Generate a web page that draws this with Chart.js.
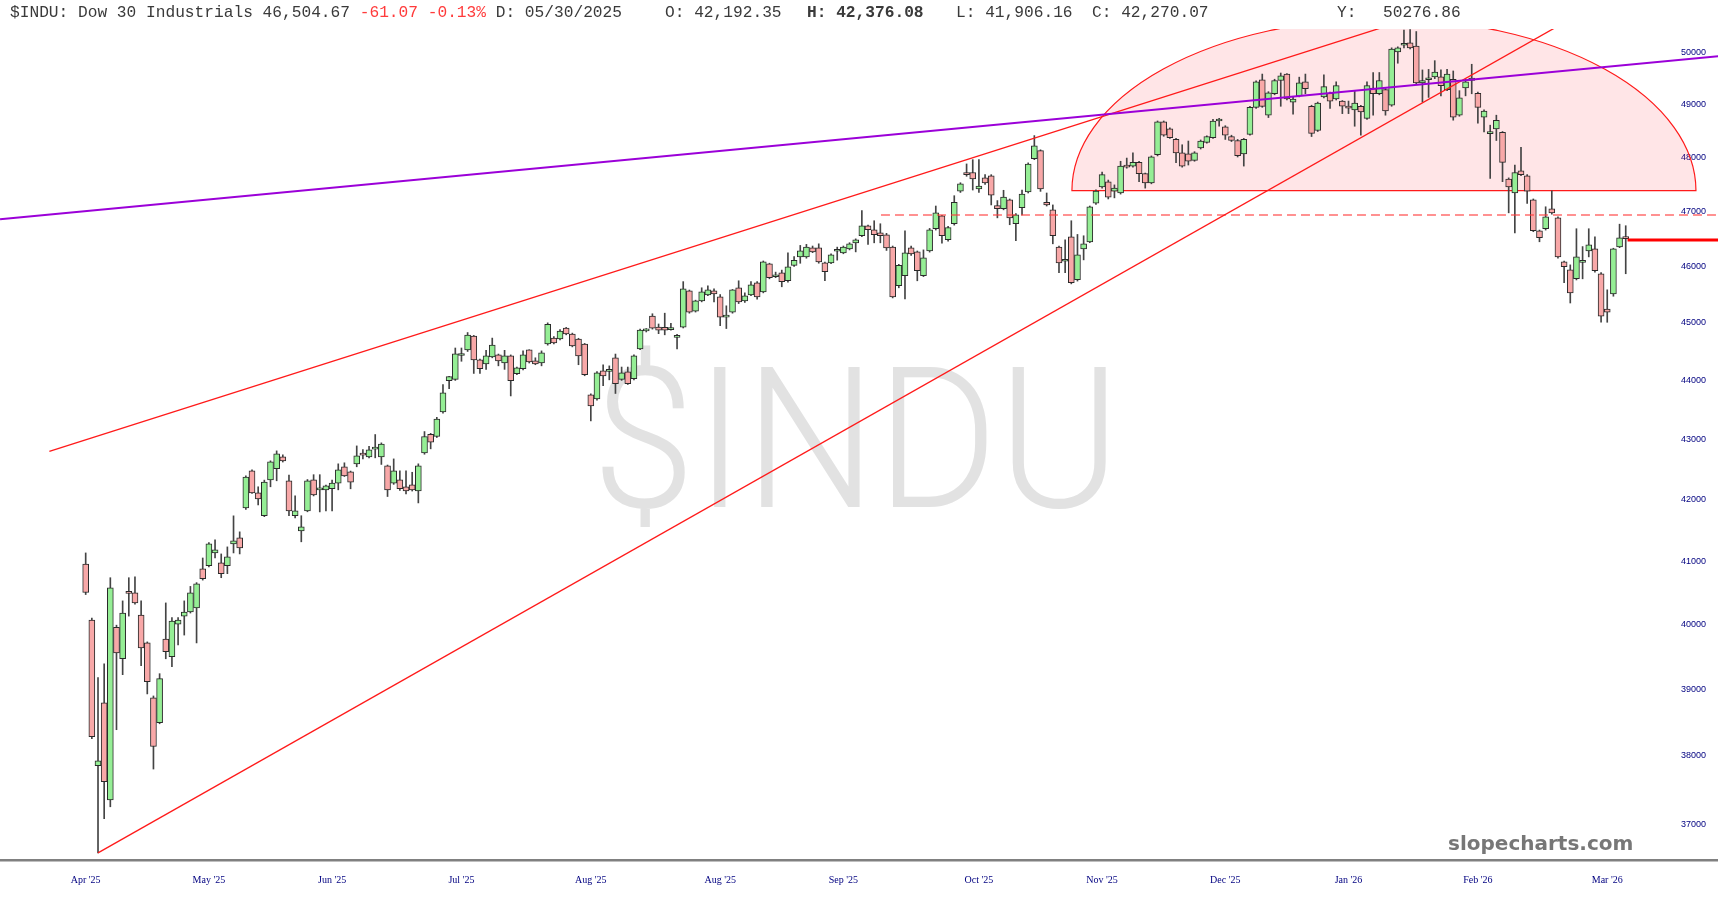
<!DOCTYPE html>
<html>
<head>
<meta charset="utf-8">
<title>$INDU</title>
<script src="https://cdn.jsdelivr.net/npm/chart.js@4.4.1/dist/chart.umd.min.js"></script>
<style>
  html, body { margin: 0; padding: 0; background: #fff; }
  #wrap { position: relative; width: 1718px; height: 900px; }
</style>
</head>
<body>
<div id="wrap"><canvas id="chart" width="1718" height="900"></canvas></div>
<script>
// ===============================
// == DATA (daily OHLC, one entry per session)
// ===============================
const opens = [
  40956,40069,37855,38796,37354,39958,39469,40510,40498,40148,
  39714,38872,38496,39775,39500,40005,40132,40196,40260,40881,
  40929,41134,40977,40929,41280,41377,41863,42475,42111,41736,
  42325,42508,42707,42309,41736,41491,41814,42325,42160,42160,
  42177,42271,42541,42458,42590,42740,42707,42835,42707,42558,
  42271,42325,42210,42243,42144,42773,43085,43047,43460,43996,
  44019,44430,44527,44770,44355,44286,44406,44441,44303,44424,
  44114,44200,44527,44337,44303,44630,44735,44717,44908,44804,
  44717,44630,43752,43683,44165,44155,44389,44019,44148,44030,
  44545,44860,45119,44925,44920,44880,44745,44925,45566,45207,
  45387,45495,45566,45460,45100,45190,45620,45387,45495,45710,
  45548,46049,45817,45889,45745,46022,46174,46174,46336,46336,
  46067,46067,46275,46246,46318,46428,46556,46739,46666,46611,
  46574,46353,45656,45835,46336,46264,45835,46282,46684,46920,
  46483,46775,47376,47720,47720,47414,47620,47658,47107,47050,
  47212,46775,47068,47358,47977,48130,47170,47032,46353,46095,
  46538,45763,46318,46446,47152,47451,47546,47376,47340,47857,
  47838,47911,47700,47527,48052,48672,48541,48340,48088,48070,
  47947,48180,48286,48375,48690,48580,48395,48320,48070,48436,
  48950,49480,48800,49210,49465,49590,49050,49170,49440,48968,
  48510,49150,49220,49110,49070,48975,48900,48968,48740,49320,
  49210,49290,48990,50020,50150,50200,50137,49420,49480,49535,
  49535,49290,49490,48800,49320,49465,49220,48760,48450,48541,
  48475,47600,47340,47750,47658,47212,46648,46684,47050,46883,
  46085,45943,45781,46075,46282,46318,45871,45244,45513,46353,
  46540
];
const highs = [
  41134,40100,39179,39393,40738,39990,40371,40738,40754,40371,
  39730,38900,39240,40339,40110,40110,40371,40600,40660,41053,
  41300,41345,41118,41231,41734,41474,42390,42490,42210,42320,
  42640,42806,42740,42403,42061,41736,42330,42410,42410,42240,
  42320,42590,42607,42470,42889,42827,42880,43080,42940,42570,
  42672,42475,42475,42450,42590,43130,43100,43370,43930,44070,
  44560,44560,44830,44780,44370,44520,44733,44455,44520,44440,
  44230,44510,44530,44390,44510,45000,44760,44880,44920,44820,
  44730,44640,43770,44150,44270,44250,44455,44230,44230,44440,
  44890,44900,45160,44980,45170,44990,44800,45730,45580,45400,
  45620,45656,45602,45500,45300,45590,45745,45530,45730,45730,
  46100,46060,45900,45936,46246,46180,46381,46400,46370,46410,
  46080,46230,46350,46370,46430,46500,47016,46750,46830,46775,
  46600,46370,46040,46647,46370,46280,46300,46690,47100,46930,
  46730,47290,47530,47880,47960,47960,47680,47680,47200,47390,
  47230,46960,47395,47900,48413,48145,47340,47120,46370,46483,
  46830,46580,46556,47100,47400,47730,47580,47490,47930,47990,
  48090,47930,47710,48030,48690,48690,48560,48360,48240,48310,
  48110,48330,48410,48720,48740,48600,48420,48340,48360,48970,
  49460,49590,49250,49490,49610,49600,49150,49530,49590,48990,
  49050,49575,49240,49440,49080,49070,49260,48990,49440,49620,
  49620,49310,50100,50120,50450,50460,50420,49670,49680,49850,
  49670,49680,49650,49270,49490,49780,49240,48900,48610,48800,
  48490,47620,47860,48190,47680,47230,46660,47086,47380,46900,
  46100,46030,46684,46360,46684,46536,45890,45584,46330,46767,
  46739
];
const lows = [
  40471,38256,36589,37080,37253,38391,39225,40132,40320,39362,
  38931,37806,38480,39469,39347,39683,39836,40180,39714,40700,
  40910,41053,40738,40802,41134,41118,41840,42100,41912,41720,
  42210,42309,42620,41736,41700,41313,41800,42060,41798,41814,
  41814,42160,42380,42177,42541,42670,42690,42690,42580,42050,
  42250,42150,42094,42140,41945,42750,42840,43030,43440,43860,
  44000,44330,44500,44120,44120,44190,44390,44251,44190,43734,
  44100,44180,44300,44270,44251,44610,44630,44700,44790,44580,
  44270,44080,43310,43660,43910,44010,43776,44000,43930,44010,
  44530,44840,44890,44810,44790,44870,44545,44910,45170,45190,
  45370,45480,45369,44950,44900,45170,45340,45360,45480,45420,
  45530,45780,45800,45638,45720,46000,46059,46150,46250,46060,
  45745,46050,46115,46230,46300,46264,46540,46398,46428,46428,
  46290,45440,45620,45424,46200,45745,45820,46260,46660,46420,
  46460,46750,47350,47650,47395,47350,47500,47120,46883,47030,
  46757,46465,46938,47340,47960,47370,47100,46410,45889,45889,
  45690,45740,46120,46430,47130,47430,47230,47250,47320,47800,
  47820,47550,47430,47510,48030,48400,48360,47905,47820,47860,
  47930,48160,48270,48360,48590,48340,48300,48010,47840,48420,
  48930,48950,48755,49190,48970,49090,48820,49150,49210,48395,
  48490,49130,48930,49090,48830,48830,48590,48420,48720,48800,
  49190,48800,48970,49800,50100,50080,49400,49050,49140,49500,
  49170,49270,48705,48780,49170,49210,48650,48480,47610,48320,
  47550,46975,46610,47660,47150,46630,46447,46660,46950,46150,
  45710,45350,45760,45780,46174,45900,45010,45010,45470,46340,
  45871
];
const closes = [
  40503,38286,37928,37620,40579,39561,40180,40490,40339,39638,
  39118,38140,39164,39577,40053,40069,40196,40498,40642,40722,
  41280,41183,40802,41070,41329,41215,42370,42111,42012,42288,
  42624,42756,42640,41814,41814,41556,42309,42078,42177,42227,
  42271,42491,42391,42288,42723,42735,42822,42845,42920,42160,
  42475,42177,42144,42160,42558,43047,42953,43341,43786,44064,
  44459,44445,44787,44355,44200,44424,44613,44337,44424,43996,
  44217,44441,44320,44286,44476,44976,44648,44856,44804,44596,
  44424,44097,43563,44131,44079,44165,43945,44131,43945,44424,
  44873,44880,44908,44873,44873,44895,44755,45602,45190,45387,
  45548,45584,45513,45100,45120,45584,45369,45477,45674,45459,
  46085,45799,45853,45728,45996,46112,46282,46353,46264,46085,
  45907,46210,46285,46353,46410,46483,46739,46666,46574,46556,
  46336,45459,46022,46246,46228,45925,46156,46666,46975,46556,
  46703,47170,47508,47680,47600,47470,47527,47302,47050,47265,
  46883,46938,47320,47876,48220,47414,47120,46556,46067,46110,
  45710,46210,46410,47086,47376,47680,47265,47433,47838,47820,
  47911,47700,47527,48015,48672,48420,48375,48088,47840,47930,
  48088,48310,48395,48690,48700,48420,48320,48033,48340,48950,
  49440,48968,49230,49465,49555,49110,49110,49420,49310,48455,
  49030,49346,49070,49365,48970,48935,49030,48860,49365,49210,
  49465,48880,50078,50098,50160,50098,49420,49465,49500,49630,
  49365,49590,48760,49130,49440,49510,48950,48880,48460,48700,
  47910,47451,47720,47680,47376,46648,46520,46902,46975,46174,
  45996,45530,46174,46085,46391,45925,45119,45190,46318,46520,
  46505
];

// month labels sit on the first session of each month (session index)
const monthTickPos = [0, 20, 40, 61, 82, 103, 123, 145, 165, 185, 205, 226, 247];
const monthTickLabels = ["Apr '25", "May '25", "Jun '25", "Jul '25", "Aug '25", "Aug '25",
                         "Sep '25", "Oct '25", "Nov '25", "Dec '25", "Jan '26", "Feb '26", "Mar '26"];
const priceTicks = [37000, 38000, 39000, 40000, 41000, 42000, 43000,
                    44000, 45000, 46000, 47000, 48000, 49000, 50000];

// drawn studies, in (session index, price)
const purpleLine = [{ x: -13.9, y: 46857 }, { x: 265, y: 49936 }];
const upperChannel = [{ x: -5.9, y: 42799 }, { x: 229.6, y: 51243 }];
const lowerChannel = [{ x: 2, y: 36589 }, { x: 245.8, y: 50997 }];
const dashedLevel = [{ x: 129.1, y: 46936 }, { x: 266, y: 46936 }];
const lastLevel = [{ x: 250.3, y: 46480 }, { x: 266, y: 46480 }];
const arcBox = { x0: 160.1, x1: 261.4, base: 47384, top: 50674 };

// ===============================
// == HEADER TEXT
// ===============================
const headerSegments = [
    { text: '$INDU: Dow 30 Industrials 46,504.67 ', at: 10 },
    { text: '-61.07 -0.13%', color: '#ff3b3b' },
    { text: ' D: 05/30/2025' },
    { text: 'O: 42,192.35', at: 665 },
    { text: 'H: 42,376.08', at: 807, bold: true },
    { text: 'L: 41,906.16', at: 956 },
    { text: 'C: 42,270.07', at: 1092 },
    { text: 'Y:', at: 1337 },
    { text: '50276.86', at: 1383 }
];

const X_MIN = -13.91, X_MAX = 264.98;
const Y_MIN = 36487, Y_MAX = 50470;

const isUp = closes.map((c, i) => c >= opens[i]);
const bodies = closes.map((c, i) => ({ x: i, y: [opens[i], c] }));
const wicks = lows.map((l, i) => ({ x: i, y: [l, highs[i]] }));

// ===============================
// == PLUGINS (background marks + text)
// ===============================
const backdrop = {
    id: 'backdrop',
    beforeDatasetsDraw(chart) {
        const { ctx, chartArea: a, scales: { x, y } } = chart;
        ctx.save();
        ctx.beginPath();
        ctx.rect(a.left, a.top, a.right - a.left, a.bottom - a.top);
        ctx.clip();

        // watermark
        ctx.font = '300 197px Roboto, "Liberation Sans", sans-serif';
        const w = ctx.measureText('$INDU').width;
        ctx.translate(856, 507);
        ctx.scale(528 / w, 1);
        ctx.fillStyle = '#e2e2e2';
        ctx.textAlign = 'center';
        ctx.textBaseline = 'alphabetic';
        ctx.fillText('$INDU', 0, 0);
        ctx.setTransform(1, 0, 0, 1, 0, 0);

        // half ellipse
        const left = x.getPixelForValue(arcBox.x0);
        const right = x.getPixelForValue(arcBox.x1);
        const base = y.getPixelForValue(arcBox.base);
        const top = y.getPixelForValue(arcBox.top);
        ctx.beginPath();
        ctx.ellipse((left + right) / 2, base, (right - left) / 2, base - top, 0, Math.PI, 2 * Math.PI);
        ctx.closePath();
        ctx.fillStyle = 'rgba(255, 40, 60, 0.12)';
        ctx.fill();
        ctx.strokeStyle = '#ff1a1a';
        ctx.lineWidth = 1.2;
        ctx.stroke();
        ctx.restore();
    },
    afterDraw(chart) {
        const { ctx } = chart;
        ctx.save();
        ctx.textBaseline = 'alphabetic';
        ctx.textAlign = 'left';
        let px = 10;
        for (const seg of headerSegments) {
            if (seg.at !== undefined) px = seg.at;
            ctx.font = (seg.bold ? 'bold ' : '') + '16.2px "Liberation Mono", "Courier New", monospace';
            ctx.fillStyle = seg.color || '#3a3a3a';
            ctx.fillText(seg.text, px, 17);
            px += ctx.measureText(seg.text).width;
        }
        ctx.font = 'bold 20px "DejaVu Sans", Verdana, sans-serif';
        ctx.fillStyle = '#777777';
        ctx.fillText('slopecharts.com', 1448, 850);
        ctx.restore();
    }
};

function lineSet(data, color, width, dash) {
    return {
        type: 'line', data, borderColor: color, borderWidth: width, borderDash: dash || [],
        pointRadius: 0, fill: false, tension: 0, order: 0
    };
}

new Chart(document.getElementById('chart'), {
    type: 'bar',
    data: {
        datasets: [
            {
                data: wicks, barThickness: 1, grouped: false, order: 3,
                backgroundColor: '#444444', borderWidth: 0
            },
            {
                data: bodies, barThickness: 6, grouped: false, order: 2, minBarLength: 2,
                backgroundColor: ctx => isUp[ctx.dataIndex] ? '#95ee95' : '#f8a8a8',
                borderColor: '#2a2a2a', borderWidth: 1, borderSkipped: false
            },
            lineSet(purpleLine, '#9b00d8', 2),
            lineSet(upperChannel, '#ff1a1a', 1.3),
            lineSet(lowerChannel, '#ff1a1a', 1.3),
            lineSet(dashedLevel, 'rgba(255, 60, 60, 0.75)', 1.5, [9, 5]),
            lineSet(lastLevel, '#ff0000', 3)
        ]
    },
    options: {
        responsive: false,
        animation: false,
        layout: { padding: { top: 29, left: 0, right: 0, bottom: 0 } },
        plugins: { legend: { display: false }, tooltip: { enabled: false } },
        scales: {
            x: {
                type: 'linear', min: X_MIN, max: X_MAX, offset: false,
                grid: { display: false },
                border: { display: true, color: '#808080', width: 2.5 },
                afterFit(scale) { scale.height = 40; },
                afterBuildTicks(scale) { scale.ticks = monthTickPos.map(v => ({ value: v })); },
                ticks: {
                    autoSkip: false, maxRotation: 0, padding: 6,
                    color: '#000080', font: { family: '"Liberation Serif", serif', size: 10 },
                    callback: (v, i) => monthTickLabels[i]
                }
            },
            y: {
                type: 'logarithmic', position: 'right', min: Y_MIN, max: Y_MAX,
                grid: { display: false },
                border: { display: false },
                afterFit(scale) { scale.width = 0; },
                afterBuildTicks(scale) { scale.ticks = priceTicks.map(v => ({ value: v })); },
                ticks: {
                    autoSkip: false, mirror: true, padding: -12,
                    color: '#000080', font: { family: '"Liberation Sans", Arial, sans-serif', size: 9 },
                    callback: v => String(v)
                }
            }
        }
    },
    plugins: [backdrop]
});
</script>
</body>
</html>
